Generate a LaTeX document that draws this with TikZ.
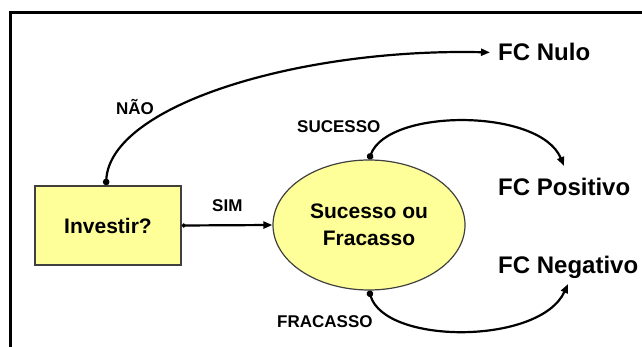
\documentclass[tikz,border=0pt]{standalone}
\usepackage{fontspec}
\setmainfont{Liberation Sans}
\usetikzlibrary{arrows.meta,shapes.geometric}
\definecolor{boxyellow}{HTML}{FFFF99}
\definecolor{edgegray}{HTML}{404040}
\begin{document}
\begin{tikzpicture}[x=1pt,y=-1pt,
  conn/.style={line width=2.2pt,{Circle[length=6.5pt]}-{Triangle[length=9pt,width=7pt]}},
  lbl/.style={inner sep=0pt,anchor=base west,font=\bfseries\fontsize{17}{20}\selectfont},
  fc/.style={inner sep=0pt,anchor=base west,font=\bfseries\fontsize{24}{28}\selectfont},
  decbox/.style={draw=edgegray,line width=1.5pt,fill=boxyellow,minimum width=146pt,minimum height=79pt,inner sep=0pt,font=\bfseries\fontsize{21}{25}\selectfont},
  decell/.style={ellipse,draw=edgegray,line width=1.2pt,fill=boxyellow,minimum width=192pt,minimum height=130pt,inner sep=0pt,align=center,font=\bfseries\fontsize{21}{27}\selectfont}
]
\useasboundingbox (0,0) rectangle (642,347);
% frame
\draw[line width=3pt] (10.5,348) -- (10.5,12.5) -- (643,12.5);

\node[decbox] (inv) at (108,225.5) {Investir?};
\node[decell] (sf) at (369,225) {Sucesso ou\\Fracasso};

\node[fc] (fcn) at (498,61) {FC Nulo};
\node[fc] (fcp) at (498,196) {FC Positivo};
\node[fc] (fcneg) at (498,273) {FC Negativo};

\node[lbl] (lnao) at (116,115) {NÃO};
\node[lbl] (lsim) at (212,212) {SIM};
\node[lbl] (lsuc) at (297,133) {SUCESSO};
\node[lbl] (lfra) at (277,327) {FRACASSO};

\coordinate (tpos) at (564,166);
\coordinate (tneg) at (568,284);

\draw[conn] ([xshift=-2pt]inv.north) .. controls (110,105) and (300,48) .. ([xshift=-8pt]fcn.west);
\draw[conn,{Circle[length=4pt]}-{Triangle[length=9pt,width=7pt]}] (inv.east) -- (sf.west);
\draw[conn] (sf.north) .. controls (388,108) and (540,108) .. (tpos);
\draw[conn] (sf.south) .. controls (385,345) and (540,345) .. (tneg);
\end{tikzpicture}
\end{document}
